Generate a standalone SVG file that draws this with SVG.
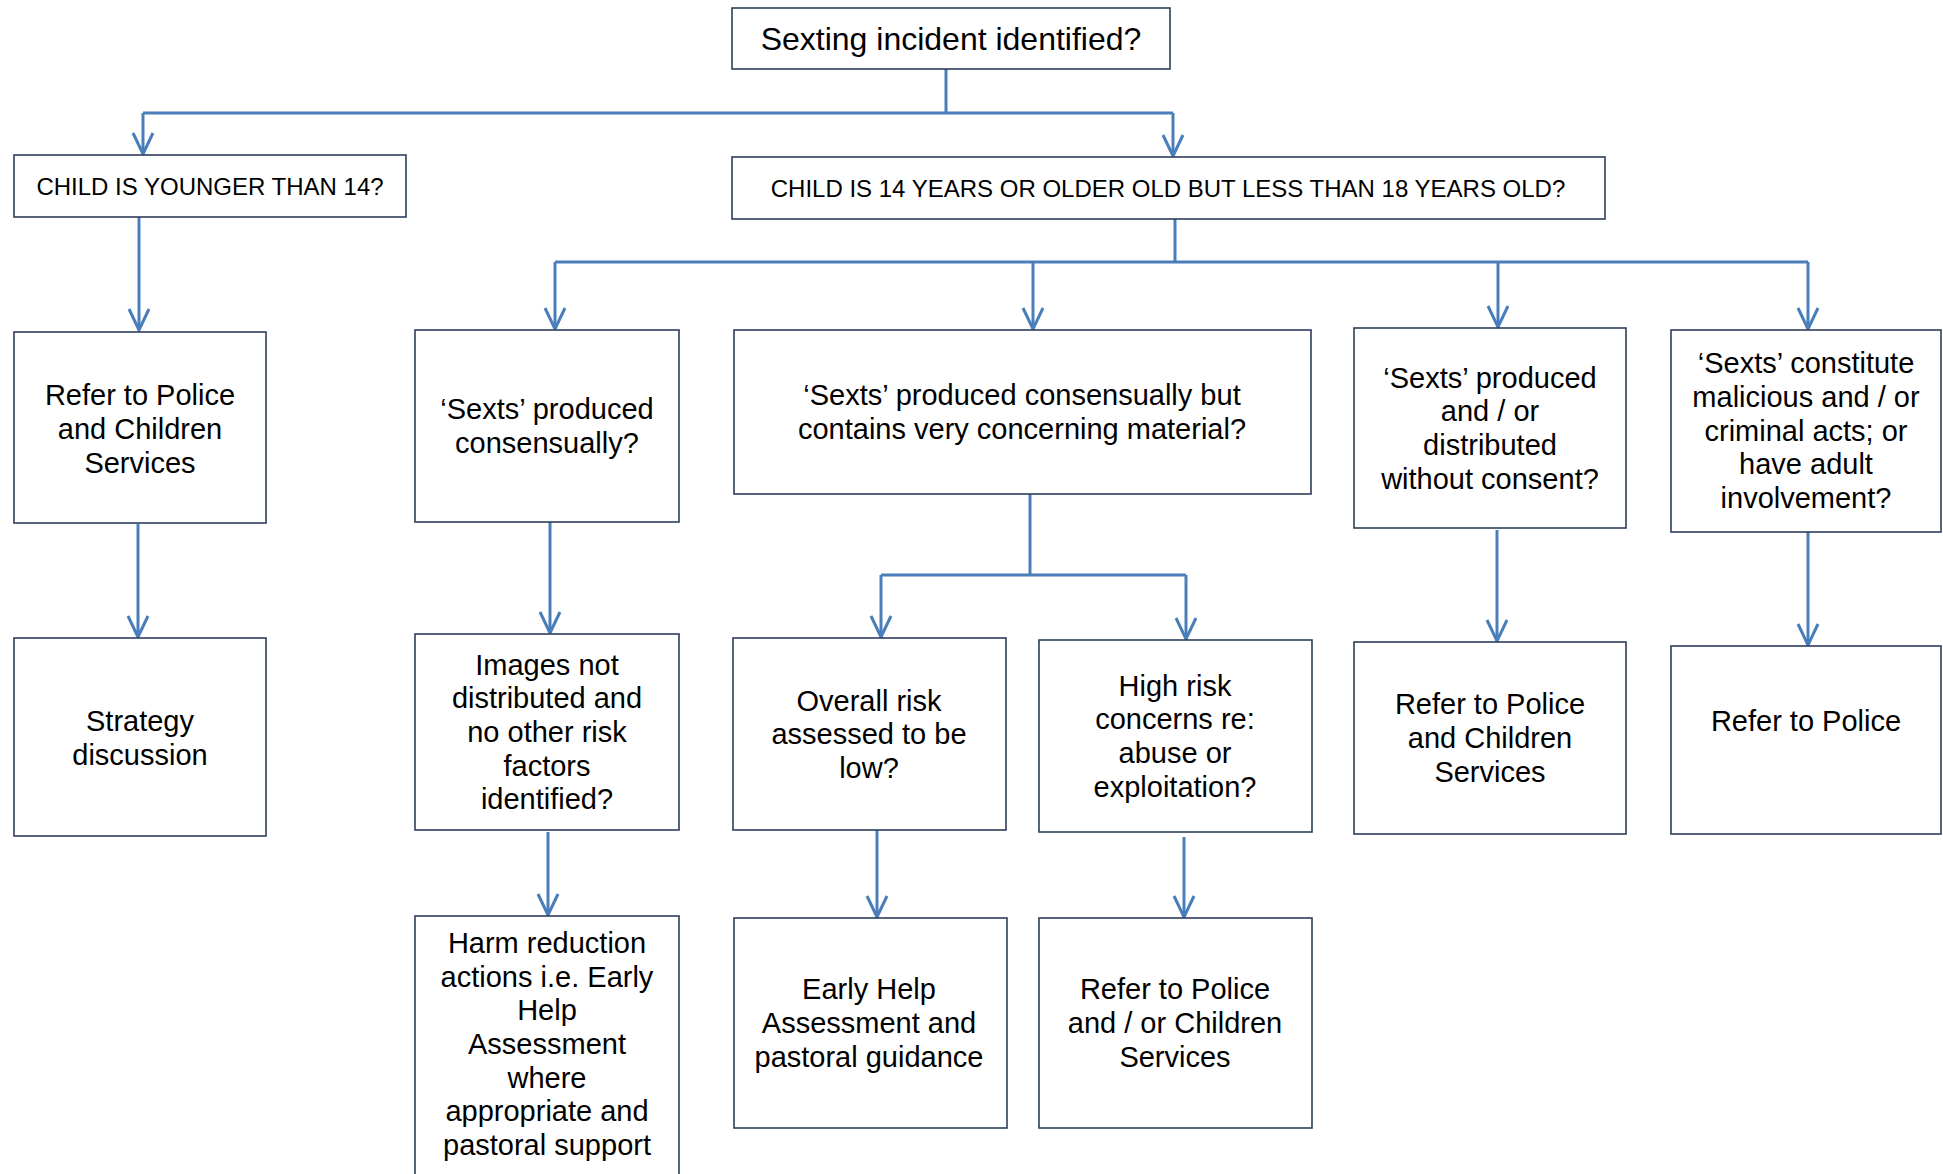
<svg xmlns="http://www.w3.org/2000/svg" width="1943" height="1174" viewBox="0 0 1943 1174">
<style>
.box{fill:#fff;stroke:#2E3E5C;stroke-width:1.6}
.t{font-family:"Liberation Sans",Arial,sans-serif;font-size:29px;fill:#000;text-anchor:middle}
.cap{font-size:24px}
.big{font-size:32px}
.c{fill:none;stroke:#4A7EBB;stroke-width:3}
.a{fill:none;stroke:#4A7EBB;stroke-width:3;marker-end:url(#arr)}
</style>
<defs>
<marker id="arr" markerUnits="userSpaceOnUse" markerWidth="40" markerHeight="40" refX="0" refY="0" orient="auto" overflow="visible">
<path d="M-21,-10 L0,0 L-21,10" fill="none" stroke="#4A7EBB" stroke-width="3"/>
</marker>
</defs>
<rect width="1943" height="1174" fill="#fff"/>
<g id="connectors">
<path class="c" d="M946,69 V113 M143,113 H1173"/>
<path class="a" d="M143,113 V154"/>
<path class="a" d="M1173,113 V156"/>
<path class="a" d="M139,217 V330"/>
<path class="a" d="M138,524 V637"/>
<path class="c" d="M1175,219 V262 M555,262 H1808"/>
<path class="a" d="M555,262 V329"/>
<path class="a" d="M1033,262 V329"/>
<path class="a" d="M1498,262 V327"/>
<path class="a" d="M1808,262 V329"/>
<path class="a" d="M550,522 V633"/>
<path class="c" d="M1030,494 V575 M881,575 H1186"/>
<path class="a" d="M881,575 V637"/>
<path class="a" d="M1186,575 V639"/>
<path class="a" d="M1497,530 V641"/>
<path class="a" d="M1808,532 V645"/>
<path class="a" d="M548,832 V915"/>
<path class="a" d="M877,830 V917"/>
<path class="a" d="M1184,837 V917"/>
</g>
<g id="n_top"><rect class="box" x="732" y="8" width="438" height="61"/><text class="t big" x="951" y="50">Sexting incident identified?</text></g>
<g id="n_under14"><rect class="box" x="14" y="155" width="392" height="62"/><text class="t cap" x="210" y="195">CHILD IS YOUNGER THAN 14?</text></g>
<g id="n_14to18"><rect class="box" x="732" y="157" width="873" height="62"/><text class="t cap" x="1168" y="197">CHILD IS 14 YEARS OR OLDER OLD BUT LESS THAN 18 YEARS OLD?</text></g>
<g id="n_refer1"><rect class="box" x="14" y="332" width="252" height="191"/><text class="t" x="140"><tspan x="140" y="405">Refer to Police</tspan><tspan x="140" y="439">and Children</tspan><tspan x="140" y="473">Services</tspan></text></g>
<g id="n_strategy"><rect class="box" x="14" y="638" width="252" height="198"/><text class="t" x="140"><tspan x="140" y="731">Strategy</tspan><tspan x="140" y="765">discussion</tspan></text></g>
<g id="n_consensual"><rect class="box" x="415" y="330" width="264" height="192"/><text class="t" x="547"><tspan x="547" y="419">‘Sexts’ produced</tspan><tspan x="547" y="453">consensually?</tspan></text></g>
<g id="n_concerning"><rect class="box" x="734" y="330" width="577" height="164"/><text class="t" x="1022"><tspan x="1022" y="405">‘Sexts’ produced consensually but</tspan><tspan x="1022" y="439">contains very concerning material?</tspan></text></g>
<g id="n_noconsent"><rect class="box" x="1354" y="328" width="272" height="200"/><text class="t" x="1490"><tspan x="1490" y="388">‘Sexts’ produced</tspan><tspan x="1490" y="421">and / or</tspan><tspan x="1490" y="455">distributed</tspan><tspan x="1490" y="489">without consent?</tspan></text></g>
<g id="n_malicious"><rect class="box" x="1671" y="330" width="270" height="202"/><text class="t" x="1806"><tspan x="1806" y="373">‘Sexts’ constitute</tspan><tspan x="1806" y="407">malicious and / or</tspan><tspan x="1806" y="441">criminal acts; or</tspan><tspan x="1806" y="474">have adult</tspan><tspan x="1806" y="508">involvement?</tspan></text></g>
<g id="n_images"><rect class="box" x="415" y="634" width="264" height="196"/><text class="t" x="547"><tspan x="547" y="675">Images not</tspan><tspan x="547" y="708">distributed and</tspan><tspan x="547" y="742">no other risk</tspan><tspan x="547" y="776">factors</tspan><tspan x="547" y="809">identified?</tspan></text></g>
<g id="n_lowrisk"><rect class="box" x="733" y="638" width="273" height="192"/><text class="t" x="869"><tspan x="869" y="711">Overall risk</tspan><tspan x="869" y="744">assessed to be</tspan><tspan x="869" y="778">low?</tspan></text></g>
<g id="n_highrisk"><rect class="box" x="1039" y="640" width="273" height="192"/><text class="t" x="1175"><tspan x="1175" y="696">High risk</tspan><tspan x="1175" y="729">concerns re:</tspan><tspan x="1175" y="763">abuse or</tspan><tspan x="1175" y="797">exploitation?</tspan></text></g>
<g id="n_refer2"><rect class="box" x="1354" y="642" width="272" height="192"/><text class="t" x="1490"><tspan x="1490" y="714">Refer to Police</tspan><tspan x="1490" y="748">and Children</tspan><tspan x="1490" y="782">Services</tspan></text></g>
<g id="n_police"><rect class="box" x="1671" y="646" width="270" height="188"/><text class="t" x="1806" y="731">Refer to Police</text></g>
<g id="n_harm"><rect class="box" x="415" y="916" width="264" height="262"/><text class="t" x="547"><tspan x="547" y="953">Harm reduction</tspan><tspan x="547" y="987">actions i.e. Early</tspan><tspan x="547" y="1020">Help</tspan><tspan x="547" y="1054">Assessment</tspan><tspan x="547" y="1088">where</tspan><tspan x="547" y="1121">appropriate and</tspan><tspan x="547" y="1155">pastoral support</tspan></text></g>
<g id="n_earlyhelp"><rect class="box" x="734" y="918" width="273" height="210"/><text class="t" x="869"><tspan x="869" y="999">Early Help</tspan><tspan x="869" y="1033">Assessment and</tspan><tspan x="869" y="1067">pastoral guidance</tspan></text></g>
<g id="n_refer3"><rect class="box" x="1039" y="918" width="273" height="210"/><text class="t" x="1175"><tspan x="1175" y="999">Refer to Police</tspan><tspan x="1175" y="1033">and / or Children</tspan><tspan x="1175" y="1067">Services</tspan></text></g>
</svg>
